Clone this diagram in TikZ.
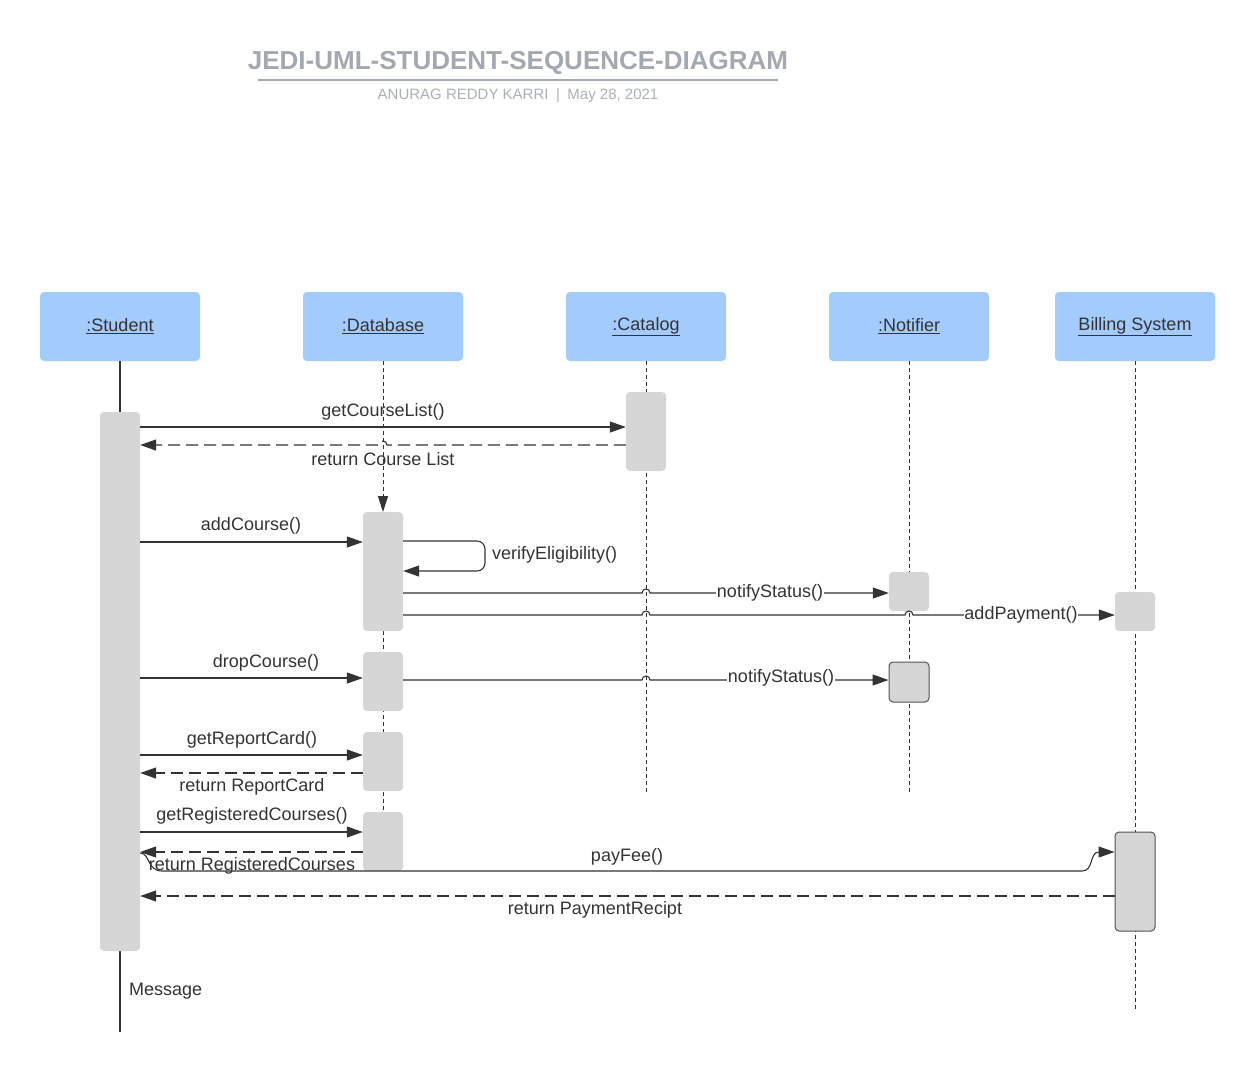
\documentclass[tikz,border=0pt]{standalone}
\usepackage{fontspec}
\setmainfont{Liberation Sans}
\usetikzlibrary{arrows.meta}
\definecolor{hdr}{HTML}{A3CBFD}
\definecolor{actc}{HTML}{D6D6D6}
\definecolor{ink}{HTML}{333333}
\definecolor{ttl}{HTML}{A3A8B1}
\definecolor{subc}{HTML}{ABB0B8}
\begin{document}
\begin{tikzpicture}[x=1pt,y=-1pt,
 header/.style={fill=hdr, rounded corners=4pt, minimum width=160pt, minimum height=69pt, inner sep=0pt, font=\fontsize{18}{20}\selectfont, text=ink},
 actbox/.style={fill=actc, rounded corners=4pt, minimum width=40pt, inner sep=0pt},
 bordered/.style={draw=ink!85, line width=1pt},
 lifeline/.style={draw=ink, line width=1pt, dash pattern=on 4pt off 3pt},
 msg/.style={draw=ink, line width=1.1pt, -{Triangle[length=16pt,width=11pt]}},
 ret/.style={msg, dash pattern=on 12pt off 6pt},
 lbl/.style={font=\fontsize{18}{20}\selectfont, text=ink, inner sep=1pt},
 inl/.style={lbl, fill=white, inner sep=0.5pt},
 ]
\useasboundingbox (0,0) rectangle (1255,1072);

% title
\node[font=\bfseries\fontsize{26}{30}\selectfont, text=ttl] (title) at (518,63) {JEDI-UML-STUDENT-SEQUENCE-DIAGRAM};
\coordinate (ruleL) at (258,79.5);
\coordinate (ruleR) at (778,79.5);
\draw[ttl, line width=2pt] (ruleL) -- (ruleR);
\node[font=\fontsize{15}{17}\selectfont, text=subc] (subtitle) at (518,96) {ANURAG REDDY KARRI\enspace|\enspace May 28, 2021};

% headers
\node[header] (stu) at (120,326.5) {\underline{:Student}};
\node[header] (db)  at (383,326.5) {\underline{:Database}};
\node[header] (cat) at (646,326.5) {\underline{:Catalog}};
\node[header] (nt)  at (909,326.5) {\underline{:Notifier}};
\node[header] (bil) at (1135,326.5) {\underline{Billing System}};

% lifeline ends
\coordinate (stuEnd) at (120,1032);
\coordinate (dbIn)   at (383,512);
\coordinate (dbEnd)  at (383,871);
\coordinate (catEnd) at (646,793);
\coordinate (ntEnd)  at (909,793);
\coordinate (bilEnd) at (1135,1012);

\draw[ink, line width=1.1pt] (stu.south) -- (stuEnd);
\draw[lifeline, -{Triangle[length=16pt,width=10pt]}] (db.south) -- (dbIn);
\draw[lifeline] (dbIn) -- (dbEnd);
\draw[lifeline] (cat.south) -- (catEnd);
\draw[lifeline] (nt.south) -- (ntEnd);
\draw[lifeline] (bil.south) -- (bilEnd);

% activation boxes
\node[actbox, minimum height=539pt] (stuA) at (120,681.5) {};
\node[actbox, minimum height=79pt]  (catA) at (646,431.5) {};
\node[actbox, minimum height=119pt] (dbA1) at (383,571.5) {};
\node[actbox, minimum height=39pt]  (ntA1) at (909,591.5) {};
\node[actbox, minimum height=39pt]  (bilA1) at (1135,611.5) {};
\node[actbox, minimum height=59pt]  (dbA2) at (383,681.5) {};
\node[actbox, bordered, minimum height=40pt] (ntA2) at (909,682) {};
\node[actbox, minimum height=59pt]  (dbA3) at (383,761.5) {};
\node[actbox, minimum height=59pt]  (dbA4) at (383,841.5) {};
\node[actbox, bordered, minimum height=99pt] (bilA2) at (1135,881.5) {};

% getCourseList
\draw[msg] (stuA.east |- 0,427) -- (catA.west |- 0,427);
\node[lbl] (l1) at (383,412) {getCourseList()};
\draw[ret] (catA.west |- 0,445) -- (387,445) .. controls (387,439.7) and (379,439.7) .. (379,445) -- (stuA.east |- 0,445);
\node[lbl] (l2) at (383,459) {return Course List};

% addCourse
\draw[msg] (stuA.east |- 0,542) -- (dbA1.west |- 0,542);
\node[lbl] (l3) at (251,526) {addCourse()};
\draw[msg, rounded corners=8pt] (dbA1.east |- 0,541) -- (485,541) -- (485,571) -- (dbA1.east |- 0,571);
\node[lbl, anchor=west] (l4) at (491,555) {verifyEligibility()};

% notifyStatus 1
\draw[msg] (dbA1.east |- 0,593) -- (642,593) .. controls (642,587.7) and (650,587.7) .. (650,593) -- (ntA1.west |- 0,593);
\node[inl] (l5) at (770,592.5) {notifyStatus()};

% addPayment
\draw[msg] (dbA1.east |- 0,615) -- (642,615) .. controls (642,609.7) and (650,609.7) .. (650,615)
  -- (905,615) .. controls (905,609.7) and (913,609.7) .. (913,615) -- (bilA1.west |- 0,615);
\node[inl] (l6) at (1021,614.5) {addPayment()};

% dropCourse
\draw[msg] (stuA.east |- 0,678) -- (dbA2.west |- 0,678);
\node[lbl] (l7) at (266,663) {dropCourse()};
\draw[msg] (dbA2.east |- 0,680) -- (642,680) .. controls (642,674.7) and (650,674.7) .. (650,680) -- (ntA2.west |- 0,680);
\node[inl] (l8) at (781,677.5) {notifyStatus()};

% getReportCard
\draw[msg] (stuA.east |- 0,755) -- (dbA3.west |- 0,755);
\node[lbl] (l9) at (252,740) {getReportCard()};
\draw[ret] (dbA3.west |- 0,773) -- (stuA.east |- 0,773);
\node[lbl] (l10) at (252,787) {return ReportCard};

% getRegisteredCourses
\draw[msg] (stuA.east |- 0,832) -- (dbA4.west |- 0,832);
\node[lbl] (l11) at (252,816) {getRegisteredCourses()};
\draw[ret] (dbA4.west |- 0,852) -- (stuA.east |- 0,852);

% payFee
\draw[msg] (stuA.east |- 0,853) .. controls (150,853) and (147,871) .. (162,871) -- (1082,871)
  .. controls (1094,871) and (1089,852) .. (1099,852) -- (bilA2.west |- 0,852);
\node[lbl] (l12) at (252,866) {return RegisteredCourses};
\node[lbl] (l13) at (627,857) {payFee()};

% return PaymentRecipt
\draw[ret] (bilA2.west |- 0,896) -- (stuA.east |- 0,896);
\node[lbl] (l14) at (595,910) {return PaymentRecipt};

\node[lbl, anchor=west] (l15) at (128,991) {Message};
\end{tikzpicture}
\end{document}
